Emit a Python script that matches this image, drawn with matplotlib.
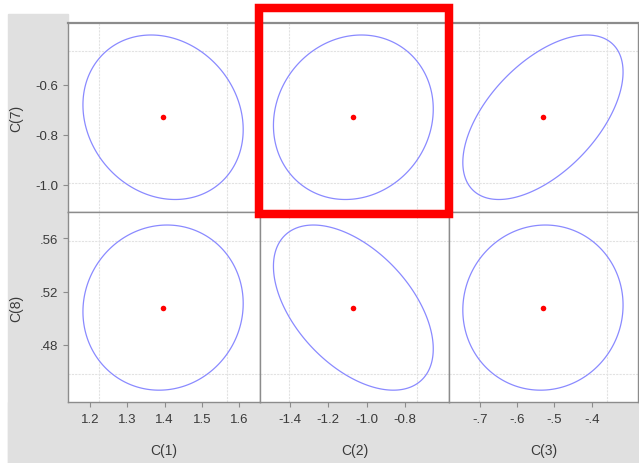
import numpy as np
import matplotlib
matplotlib.use("Agg")
import matplotlib.pyplot as plt
from matplotlib.patches import Rectangle, Polygon

plt.rcParams["font.family"] = ["Liberation Sans", "DejaVu Sans"]

# coefficient estimates and standard errors
X_NAMES = ["C(1)", "C(2)", "C(3)"]
Y_NAMES = ["C(7)", "C(8)"]
X_COEF = [1.396, -1.069, -0.531]
X_SE = [0.0878, 0.1703, 0.0878]
Y_COEF = [-0.729, 0.508]
Y_SE = [0.1344, 0.0253]
# correlation of each x coefficient with each y coefficient (rows = y)
CORR = [[-0.15, 0.10, 0.55],
        [0.05, -0.50, 0.03]]

X_LIMS = [(1.141, 1.656), (-1.556, -0.570), (-0.783, -0.276)]
Y_LIMS = [(-1.108, -0.352), (0.4372, 0.5797)]
X_TICKS = [[1.2, 1.3, 1.4, 1.5, 1.6], [-1.4, -1.2, -1.0, -0.8], [-0.7, -0.6, -0.5, -0.4]]
X_TICKLABELS = [["1.2", "1.3", "1.4", "1.5", "1.6"], ["-1.4", "-1.2", "-1.0", "-0.8"],
                ["-.7", "-.6", "-.5", "-.4"]]
Y_TICKS = [[-0.6, -0.8, -1.0], [0.56, 0.52, 0.48]]
Y_TICKLABELS = [["-0.6", "-0.8", "-1.0"], [".56", ".52", ".48"]]

Z_CI = 1.96       # individual 95% interval
C_ELL = 2.4477    # sqrt(chi2(2) 95%)

W, H = 639, 464
COL_X = [68, 260, 449, 638]
ROW_Y = [24, 213, 403]
FRAME = "#8c8c8c"
TXT = "#3a3a3a"

fig = plt.figure(figsize=(W / 100, H / 100), dpi=100)
fig.patch.set_facecolor("white")

# grey label band on the left and bottom
fig.add_artist(Rectangle((8 / W, 0), (COL_X[0] - 8) / W, (H - 15) / H,
                         transform=fig.transFigure, color="#e0e0e0", zorder=0))
fig.add_artist(Rectangle((8 / W, 0), (W - 8) / W, (H - ROW_Y[2]) / H,
                         transform=fig.transFigure, color="#e0e0e0", zorder=0))

t = np.linspace(0, 2 * np.pi, 400, endpoint=False)
for r in range(2):
    for c in range(3):
        x0, x1 = COL_X[c], COL_X[c + 1]
        y0, y1 = ROW_Y[r], ROW_Y[r + 1]
        ax = fig.add_axes([x0 / W, 1 - y1 / H, (x1 - x0) / W, (y1 - y0) / H])
        ax.set_facecolor("white")
        mx, sx = X_COEF[c], X_SE[c]
        my, sy = Y_COEF[r], Y_SE[r]
        rho = CORR[r][c]

        # individual confidence intervals
        for v in (mx - Z_CI * sx, mx + Z_CI * sx):
            ax.axvline(v, color="#e2e2e2", lw=0.8, ls=(0, (2, 1)), zorder=1)
        for v in (my - Z_CI * sy, my + Z_CI * sy):
            ax.axhline(v, color="#e2e2e2", lw=0.8, ls=(0, (2, 1)), zorder=1)

        # joint confidence ellipse
        u = np.cos(t)
        w = rho * np.cos(t) + np.sqrt(1 - rho ** 2) * np.sin(t)
        pts = np.column_stack([mx + C_ELL * sx * u, my + C_ELL * sy * w])
        ax.add_patch(Polygon(pts, closed=True, fill=False, edgecolor="#8a8aff", lw=0.9, zorder=2))
        ax.plot([mx], [my], "o", color="red", ms=4, mec="none", zorder=3)

        ax.set_xlim(*X_LIMS[c])
        ax.set_ylim(*Y_LIMS[r])
        for s in ax.spines.values():
            s.set_color(FRAME)
            s.set_linewidth(1.0)
        if r == 0:
            ax.spines["top"].set_linewidth(1.6)

        if r == 1:
            ax.set_xticks(X_TICKS[c])
            ax.set_xticklabels(X_TICKLABELS[c])
            ax.tick_params(axis="x", direction="out", length=3.6, width=0.8, color=FRAME,
                           labelsize=9.5, labelcolor=TXT, pad=4)
        else:
            ax.set_xticks([])
        if c == 0:
            ax.set_yticks(Y_TICKS[r])
            ax.set_yticklabels(Y_TICKLABELS[r])
            ax.tick_params(axis="y", direction="out", length=3.6, width=0.8, color=FRAME,
                           labelsize=9.5, labelcolor=TXT, pad=3.5)
        else:
            ax.set_yticks([])

for c in range(3):
    xc = (COL_X[c] + COL_X[c + 1]) / 2
    fig.text(xc / W, 1 - 451 / H, X_NAMES[c], ha="center", va="center", fontsize=10, color=TXT)
for r in range(2):
    yc = (ROW_Y[r] + ROW_Y[r + 1]) / 2
    fig.text(16 / W, 1 - yc / H, Y_NAMES[r], ha="center", va="center", rotation=90,
             fontsize=10, color=TXT)

# red highlight box
fig.add_artist(Rectangle((258.5 / W, 1 - 214.5 / H), (449 - 258.5) / W, (214.5 - 8.5) / H,
                         transform=fig.transFigure, fill=False, edgecolor="red",
                         lw=6.1, joinstyle="miter", zorder=10))

fig.savefig("out.png", dpi=100)
